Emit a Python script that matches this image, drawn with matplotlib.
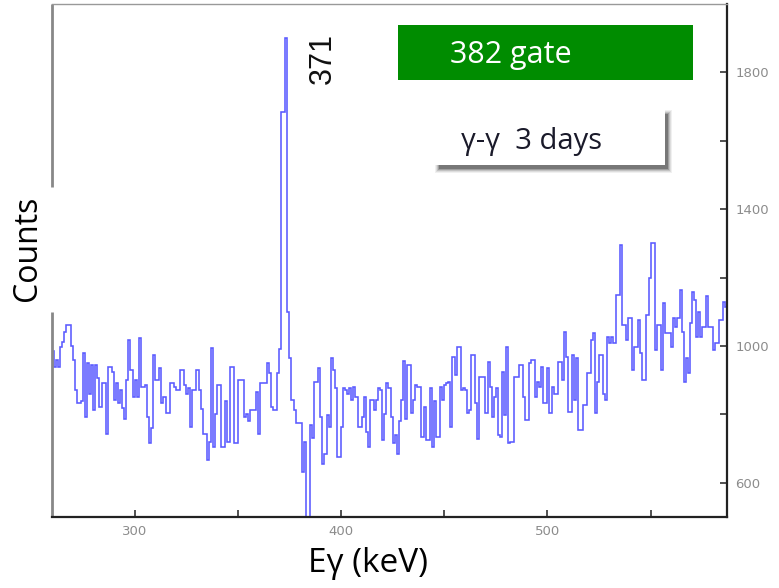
import numpy as np
import matplotlib
matplotlib.use("Agg")
import matplotlib.pyplot as plt
from matplotlib.patches import Rectangle

# Spectrum: counts per 1 keV bin, starting at 260 keV
bin_start = 260
bin_width = 1
counts = [
    984, 940, 960, 940, 998, 1013, 1040, 1062, 1062, 1000,   # 260
    960, 871, 832, 832, 840, 979, 793, 949, 861, 944,        # 270
    813, 944, 905, 822, 891, 891, 744, 940, 940, 925,        # 280
    842, 891, 832, 870, 820, 788, 900, 1018, 930, 852,       # 290
    900, 852, 1023, 881, 881, 886, 793, 715, 760, 974,       # 300
    900, 900, 935, 832, 850, 803, 803, 891, 891, 880,        # 310
    871, 871, 930, 930, 886, 861, 876, 764, 871, 871,        # 320
    930, 871, 817, 744, 744, 666, 720, 993, 705, 800,        # 330
    886, 886, 705, 705, 840, 720, 940, 940, 715, 715,        # 340
    900, 900, 900, 793, 800, 780, 813, 813, 813, 866,        # 350
    744, 891, 891, 891, 949, 920, 822, 813, 813, 920,        # 360
    990, 1683, 1683, 1902, 1100, 964, 842, 813, 774, 774,    # 370
    774, 632, 720, 440, 400, 769, 730, 896, 896, 935,        # 380
    793, 656, 685, 798, 764, 964, 930, 876, 676, 676,        # 390
    764, 876, 870, 860, 876, 842, 881, 850, 764, 764,        # 400
    793, 850, 749, 705, 842, 842, 813, 842, 876, 870,        # 410
    725, 800, 891, 876, 793, 715, 740, 685, 780, 842,        # 420
    955, 788, 945, 945, 803, 842, 886, 881, 881, 734,        # 430
    822, 725, 725, 876, 705, 838, 734, 734, 881, 842,        # 440
    886, 891, 896, 764, 969, 915, 998, 998, 871, 876,        # 450
    871, 803, 813, 974, 974, 832, 729, 910, 910, 910,        # 460
    803, 954, 880, 793, 850, 876, 739, 734, 925, 798,        # 470
    998, 715, 720, 720, 910, 910, 944, 944, 852, 783,        # 480
    783, 949, 959, 959, 852, 896, 880, 939, 832, 832,        # 490
    935, 803, 880, 861, 861, 954, 954, 900, 1042, 969,       # 500
    808, 808, 974, 842, 964, 754, 754, 827, 827, 920,        # 510
    920, 1018, 1037, 803, 896, 974, 974, 861, 842, 1027,     # 520
    1008, 1027, 1008, 1150, 1150, 1296, 1062, 1062, 1018, 1081,  # 530
    1081, 930, 998, 998, 1076, 979, 900, 900, 1091, 1200,    # 540
    1301, 1301, 988, 1062, 1062, 930, 1125, 1037, 1037, 1037,  # 550
    998, 1081, 1057, 1081, 1164, 1040, 896, 964, 920, 1067,  # 560
    1159, 1135, 1027, 1100, 1027, 1057, 1057, 1145, 1057, 1057,  # 570
    988, 1008, 1008, 1076, 1076, 1130, 1115,                 # 580
]
edges = bin_start + bin_width * np.arange(len(counts) + 1)

x_ticks = [300, 400, 500]
x_minor = [350, 450, 550]
y_ticks = [600, 1000, 1400, 1800]
y_minor = [800, 1200, 1600]

W, H = 779, 588


def fx(x):
    return x / W


def fy(y):
    return 1 - y / H


fig = plt.figure(figsize=(W / 100, H / 100), dpi=100)
ax = fig.add_axes([fx(52), fy(517), fx(727) - fx(52), fy(4) - fy(517)])

ax.stairs(counts, edges, baseline=None, color="#5a5aff", lw=1.15)

ax.set_xlim(260, 587)
ax.set_ylim(500, 2000)

ax.set_xticks(x_ticks)
ax.set_xticks(x_minor, minor=True)
ax.yaxis.tick_right()
ax.set_yticks(y_ticks)
ax.set_yticks(y_minor, minor=True)
ax.tick_params(which="both", direction="in", length=5, width=1.2,
               color="#333333", labelcolor="#8c8c8c", labelsize=9.5)
ax.tick_params(axis="y", which="both", left=False, right=True, pad=6)
ax.tick_params(axis="x", which="both", pad=6)

ax.spines["top"].set_color("#999999")
ax.spines["top"].set_linewidth(1.0)
for side in ["right", "bottom"]:
    ax.spines[side].set_color("#222222")
    ax.spines[side].set_linewidth(1.6)
ax.spines["left"].set_visible(False)
# left spine with a gap behind the "Counts" label
for y0, y1 in [(0, 0.40), (0.643, 1)]:
    ax.plot([0, 0], [y0, y1], transform=ax.transAxes, color="#888888",
            lw=2.0, clip_on=False, solid_capstyle="butt")

ax.text(391, 1840, "371", rotation=90, ha="center", va="center",
        fontsize=22, family="Liberation Sans", color="#111111")

# green gate box
fig.patches.append(Rectangle((fx(398), fy(80)), fx(693) - fx(398), fy(25) - fy(80),
                             transform=fig.transFigure, facecolor="#008c00",
                             edgecolor="none", zorder=3))
fig.text(fx(450), fy(55), "382 gate", color="white", fontsize=22,
         family="Open Sans", ha="left", va="center", zorder=4)

# white box with soft shadow (bottom / right)
bx0, by0, bx1, by1 = 435, 110, 665, 165
for grow, a in [(4, 0.06), (3, 0.08), (2, 0.12), (1, 0.18), (0, 0.25)]:
    sx0, sy0 = bx0 + 4 - grow, by0 + 4 - grow
    sx1, sy1 = bx1 + 3 + grow, by1 + 4 + grow
    fig.patches.append(Rectangle((fx(sx0), fy(sy1)), fx(sx1 - sx0), fy(0) - fy(sy1 - sy0),
                                 transform=fig.transFigure, facecolor="black",
                                 alpha=a, edgecolor="none", zorder=3))
fig.patches.append(Rectangle((fx(bx0), fy(by1)), fx(bx1 - bx0), fy(0) - fy(by1 - by0),
                             transform=fig.transFigure, facecolor="white",
                             edgecolor="none", zorder=3))
fig.text(fx(461), fy(141), "γ-γ  3 days", color="#1a1a2a", fontsize=21,
         family="Open Sans", ha="left", va="center", zorder=4)

fig.text(fx(27), fy(248), "Counts", rotation=90, ha="center", va="center",
         fontsize=23, family="Open Sans", color="black")
fig.text(fx(368), fy(563), "Eγ (keV)", ha="center", va="center",
         fontsize=24, family="Open Sans", color="black")

fig.savefig("out.png", dpi=100)
